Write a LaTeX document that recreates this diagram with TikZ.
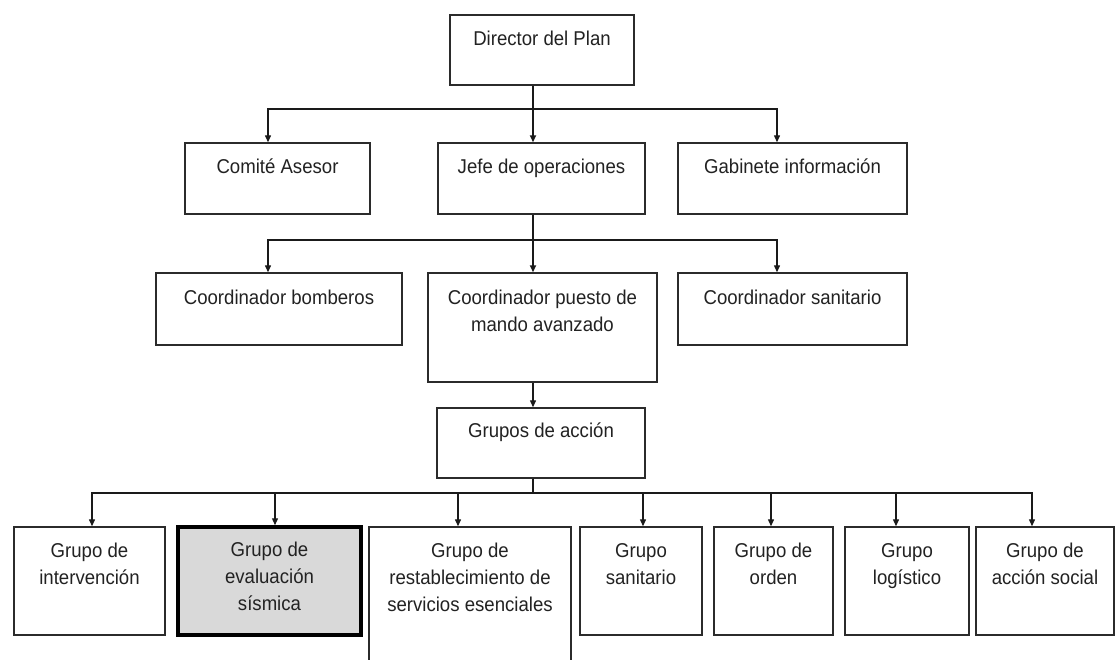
\documentclass[tikz,border=0pt]{standalone}
\usepackage{fontspec}
\setmainfont[FakeStretch=0.93]{Liberation Sans}
\usetikzlibrary{arrows.meta}
\definecolor{linec}{HTML}{1A1A1A}
\definecolor{boxc}{HTML}{2B2B2B}
\definecolor{textc}{HTML}{222222}
\definecolor{hilite}{HTML}{D9D9D9}
\newcommand\orgtext[1]{\parbox[t]{240pt}{\centering #1}}
\begin{document}
\begin{tikzpicture}[x=1pt,y=-1pt,
  orgbox/.style={draw=boxc, line width=1.4pt, inner sep=0pt, fill=white},
  hibox/.style={orgbox, draw=black, line width=3.5pt, fill=hilite},
  lbl/.style={anchor=base, inner sep=0pt, text=textc, font=\fontsize{20}{27}\selectfont},
  conn/.style={draw=linec, line width=1.3pt, -{Triangle[length=7pt,width=6pt]}},
  link/.style={draw=linec, line width=1.3pt},
  trunk/.style={conn, line width=2.2pt}]
\useasboundingbox (0,0) rectangle (1120,660);
\clip (0,0) rectangle (1120,660);
\fill[white] (0,0) rectangle (1120,660);

% boxes
\node[orgbox, minimum width=184pt, minimum height=70pt] (dir) at (542,50) {};
\node[orgbox, minimum width=185pt, minimum height=71pt] (com) at (277.5,178.5) {};
\node[orgbox, minimum width=207pt, minimum height=71pt] (jefe) at (541.5,178.5) {};
\node[orgbox, minimum width=229pt, minimum height=71pt] (gab) at (792.5,178.5) {};
\node[orgbox, minimum width=246pt, minimum height=72pt] (bom) at (279,309) {};
\node[orgbox, minimum width=229pt, minimum height=109pt] (pue) at (542.5,327.5) {};
\node[orgbox, minimum width=229pt, minimum height=72pt] (san) at (792.5,309) {};
\node[orgbox, minimum width=208pt, minimum height=70pt] (gru) at (541,443) {};
\node[orgbox, minimum width=151pt, minimum height=108pt] (gi) at (89.5,581) {};
\node[hibox, minimum width=183pt, minimum height=108pt] (ge) at (269.5,581) {};
\node[orgbox, minimum width=202pt, minimum height=150pt] (gr) at (470,602) {};
\node[orgbox, minimum width=122pt, minimum height=108pt] (gs) at (641,581) {};
\node[orgbox, minimum width=119pt, minimum height=108pt] (go) at (773.5,581) {};
\node[orgbox, minimum width=124pt, minimum height=108pt] (gl) at (907,581) {};
\node[orgbox, minimum width=138pt, minimum height=108pt] (ga) at (1045,581) {};

% texts
\node[lbl] (tdir) at ([yshift=-31pt]dir.north) {\orgtext{Director del Plan}};
\node[lbl] (tcom) at ([yshift=-31pt]com.north) {\orgtext{Comité Asesor}};
\node[lbl] (tjefe) at ([yshift=-31pt]jefe.north) {\orgtext{Jefe de operaciones}};
\node[lbl] (tgab) at ([yshift=-31pt]gab.north) {\orgtext{Gabinete información}};
\node[lbl] (tbom) at ([yshift=-32pt]bom.north) {\orgtext{Coordinador bomberos}};
\node[lbl] (tpue) at ([yshift=-32pt]pue.north) {\orgtext{Coordinador puesto de\\mando avanzado}};
\node[lbl] (tsan) at ([yshift=-32pt]san.north) {\orgtext{Coordinador sanitario}};
\node[lbl] (tgru) at ([yshift=-30pt]gru.north) {\orgtext{Grupos de acción}};
\node[lbl] (tgi) at ([yshift=-31pt]gi.north) {\orgtext{Grupo de\\intervención}};
\node[lbl] (tge) at ([yshift=-31pt]ge.north) {\orgtext{Grupo de\\evaluación\\sísmica}};
\node[lbl] (tgr) at ([yshift=-31pt]gr.north) {\orgtext{Grupo de\\restablecimiento de\\servicios esenciales}};
\node[lbl] (tgs) at ([yshift=-31pt]gs.north) {\orgtext{Grupo\\sanitario}};
\node[lbl] (tgo) at ([yshift=-31pt]go.north) {\orgtext{Grupo de\\orden}};
\node[lbl] (tgl) at ([yshift=-31pt]gl.north) {\orgtext{Grupo\\logístico}};
\node[lbl] (tga) at ([yshift=-31pt]ga.north) {\orgtext{Grupo de\\acción social}};

% connector positions
\coordinate (xm) at (533,0);
\coordinate (xl) at (268,0);
\coordinate (xr) at (777,0);
\coordinate (b1) at (0,109);
\coordinate (b2) at (0,240);
\coordinate (b3) at (0,493);
\coordinate (x1) at (92,0);
\coordinate (x2) at (275,0);
\coordinate (x3) at (458,0);
\coordinate (x4) at (643,0);
\coordinate (x5) at (771,0);
\coordinate (x6) at (896,0);
\coordinate (x7) at (1032,0);

% level 1
\draw[conn] (dir.south -| xm) |- (b1 -| xl) -- (com.north -| xl);
\draw[conn] (dir.south -| xm) |- (b1 -| xr) -- (gab.north -| xr);
\draw[trunk] (dir.south -| xm) -- (jefe.north -| xm);
% level 2
\draw[conn] (jefe.south -| xm) |- (b2 -| xl) -- (bom.north -| xl);
\draw[conn] (jefe.south -| xm) |- (b2 -| xr) -- (san.north -| xr);
\draw[trunk] (jefe.south -| xm) -- (pue.north -| xm);
% level 3
\draw[conn] (pue.south -| xm) -- (gru.north -| xm);
% level 4
\draw[conn] (gru.south -| xm) |- (b3 -| x1) -- (gi.north -| x1);
\draw[conn] (gru.south -| xm) |- (b3 -| x2) -- (ge.north -| x2);
\draw[conn] (gru.south -| xm) |- (b3 -| x3) -- (gr.north -| x3);
\draw[conn] (gru.south -| xm) |- (b3 -| x4) -- (gs.north -| x4);
\draw[conn] (gru.south -| xm) |- (b3 -| x5) -- (go.north -| x5);
\draw[conn] (gru.south -| xm) |- (b3 -| x6) -- (gl.north -| x6);
\draw[conn] (gru.south -| xm) |- (b3 -| x7) -- (ga.north -| x7);
\end{tikzpicture}
\end{document}
